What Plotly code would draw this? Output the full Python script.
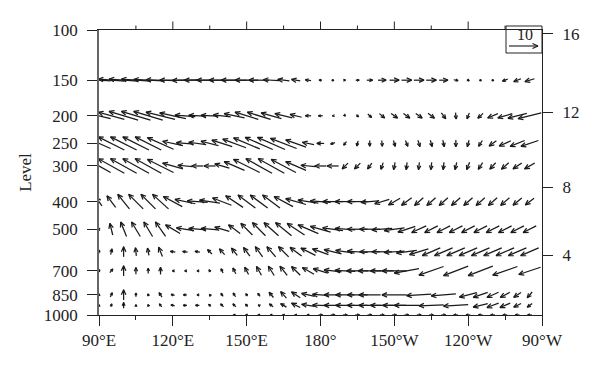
import math
import plotly.graph_objects as go

# ---------------- data ----------------
LONS = list(range(90, 270, 5))  # 90E ... 95W (265E)
LEVELS = [150, 200, 250, 300, 400, 500, 600, 700, 850, 925, 1000]

U150 = [-8, -9, -10, -10, -10, -10, -9, -9, -9, -9, -9, -9, -8, -7, -5.5, -4, -3, -2, -1, -0.2, 0.3, 1.2, 2, 2.8, 3.3, 3.5, 3.5, 3.5, 3, 1.5, 0.7, 0.2, -0.2, -1.8, -2.5, -3.3]
W150 = [0.5, 0.7, 0.7, 0.7, 0.5, 0.3, 0, -0.2, 0, 0, 0, 0, 0, 0, 0.3, 0.5, 0.5, 0.3, 0, 0, 0, 0, 0, 0, 0, 0, 0, 0, 0, -0.3, -0.5, 0, 0, -0.7, -1, -1]

U200 = [-8, -9, -10, -10, -10, -10, -9, -7, -6, -6, -6, -7, -8, -8, -7, -6, -4, -2, -1.5, -0.3, 0.2, 0.7, 1.3, 1.8, 2.2, 2.2, 2.2, 2.2, 1.5, 0.2, -0.8, -1.8, -3.5, -5, -6.5, -8]
W200 = [2, 2.5, 3, 3, 3, 2.5, 2, 0.5, 0.3, 0.3, 0.7, 1.5, 2.5, 2.5, 2, 1.5, 1, 0, 0, 0, -0.2, -0.8, -1.2, -1.5, -1.6, -1.6, -1.6, -1.7, -2, -2.2, -2, -1.7, -1.5, -1.5, -1.7, -2]

U250 = [-8, -9, -9, -9, -9, -9, -7, -6, -6, -6, -7, -8, -9, -9.5, -9.5, -9, -7, -4, -2.5, -1.5, -1, -0.5, 0, 0.2, 0.6, 0.8, 0.7, 0.6, 0.5, 0, -0.6, -1.3, -2.5, -4, -5, -6]
W250 = [3.5, 4.5, 4.5, 4.5, 4.5, 4, 1.5, 0.5, 0.8, 1.5, 2.2, 3, 3.8, 4.2, 4.2, 3.5, 2.5, 0.8, 0, -0.5, -1.2, -1.8, -2, -2, -2, -2, -2.2, -2.2, -2.3, -2.3, -2.2, -2, -1.8, -1.8, -2, -2]

U300 = [-8, -9, -9, -9, -9, -9, -7, -5, -4, -4, -5, -7, -9, -9, -9, -8.5, -7, -5, -4, -4, -2, -2, -1.5, -0.8, -0.5, -0.3, -0.3, -0.3, -0.3, -0.6, -1, -1.5, -2, -2.5, -3, -3.5]
W300 = [4.5, 5, 5, 5, 5, 4.5, 2, 0.5, 0, 0, 1.5, 3, 4.5, 5, 5, 4.5, 3, 0.5, 0, 0, -2, -2, -2, -2.3, -2.5, -2.5, -2.5, -2.5, -2.5, -2.5, -2.5, -2.3, -2.2, -2.2, -2, -2]

U400 = [-2, -3, -4, -5, -5, -5.5, -6.5, -7, -7, -7, -6.5, -6, -6, -6, -6, -6.5, -7, -7, -7, -7, -7, -7, -6, -5, -4, -3.5, -3, -3, -3, -3, -3, -3, -3, -3, -3, -3]
W400 = [3, 4, 5, 5, 5, 5, 3.5, 1.5, 0.5, 1, 2.5, 4, 4.5, 4.5, 4.5, 3.5, 2, 1, 0.5, 0, 0, 0, -0.5, -1.5, -2.3, -2.6, -2.7, -2.7, -2.7, -2.7, -2.7, -2.7, -2.7, -2.6, -2.5, -2.3]

U500 = [-0.5, -1, -2, -3, -3, -3.5, -5, -6, -6, -6, -5, -4, -4, -4.5, -5, -5.5, -6, -7, -7, -7, -7, -7, -7, -7, -7, -6, -5, -4.5, -4.5, -4.5, -4.5, -4.5, -4.5, -4.5, -4.5, -4.5]
W500 = [1, 4, 5, 5, 5, 5, 3, 1, 0.5, 0.5, 1.5, 3, 4, 4.5, 4.5, 4.5, 4, 3, 2, 1, 0.5, 0, 0, -0.5, -1, -2, -2.3, -2.3, -2.3, -2.3, -2.3, -2.3, -2.3, -2.3, -2.3, -2.3]

U600 = [0.3, 0.5, 0, -0.3, -0.5, -1.3, -1.7, -1.7, -1.7, -1.5, -1.8, -2, -2.2, -2.5, -3, -3.5, -4, -5, -5.5, -6, -6.5, -7, -7, -7, -7, -7, -6.5, -6.2, -6.2, -6.2, -6.2, -6.2, -6.2, -6.2, -6.2, -6.2]
W600 = [1.2, 2, 3.5, 2.8, 2.5, 3.2, 0.3, 0.2, 0.3, 1.5, 2, 2.5, 3, 3.5, 3.5, 3.5, 3, 2.5, 2, 1.5, 1, 0.5, 0, 0, -0.5, -1, -2, -2.7, -2.7, -2.7, -2.7, -2.7, -2.7, -2.7, -2.7, -2.7]

U700 = [0.5, 1, 0, 0, 0, 0, -0.3, -0.3, -0.3, -0.5, -0.7, -1, -1.3, -1.7, -2, -2.5, -3, -4, -5, -6, -7, -7.5, -8, -8, -8.5, -8.5, None, -8.5, None, -8.5, None, -8.5, None, -8.5, None, -7.5]
W700 = [0.8, 1.3, 3.5, 2.3, 1.8, 2.5, 0, 0, 0, 0.8, 1.5, 2, 2.5, 3, 3.2, 3.2, 3, 2.3, 1.5, 0.7, 0.3, 0, 0, 0, 0, -1.5, None, -3, None, -3.3, None, -3.3, None, -3, None, -2.5]

U850 = [0, 0.7, 0, 0, -0.3, -1, -1.2, -1.2, -0.3, -0.3, -0.8, -0.8, -0.6, -0.8, -1.5, -2, -3, -4.5, -5.5, -6, -6.5, -7, -7.5, None, -8.5, None, -8.5, None, -8.5, None, -6, -5, -4, -3.3, -2.5, -1.7]
W850 = [0.8, 1.5, 3.5, 1.3, 0.7, 1.5, 0.3, 0, 0, 0.3, 1, 1.3, 0.8, 1, 1.8, 2.2, 2, 1, 0.3, 0, 0, 0, 0, None, 0, None, -0.5, None, -0.7, None, -1.5, -1.7, -1.8, -1.8, -1.7, -2]

U925 = [0, 0.3, 0, 0, -0.3, -0.8, -1.3, -1.3, -1.3, -0.8, -1, -1, -0.8, -0.5, -1.3, -2, -3, -4.5, -5.5, -6, -6.5, -7, -7.5, -8, -8, -8.5, None, -8.5, None, -8.5, None, -5, -4, -3.5, -2.5, -1.7]
W925 = [0.5, 1, 2, 0.5, 0.5, 1, 0.3, 0, 0, 0.7, 1, 1, 0.8, 0.3, 1, 1.2, 1.5, 0.7, 0.2, 0, 0, 0, 0, 0, 0, 0, None, -0.3, None, -0.5, None, -1.2, -1.5, -1.5, -1.3, -1.3]

U1000 = [None] * 11 + [-0.8, -0.8, -0.8, -0.8, -0.8, -0.8, -0.8, 1.5, 1.5, 1.5, 1.5, 1.5, 1.5, 1.5, 1.5, 1.5, 1.5, 1.5, -1.5, -1.5, -1.5, -1.5, -1.5, -1.5, -1.5]
W1000 = [None] * 11 + [0] * 25

U_BY_LEVEL = {150: U150, 200: U200, 250: U250, 300: U300, 400: U400, 500: U500,
              600: U600, 700: U700, 850: U850, 925: U925, 1000: U1000}
W_BY_LEVEL = {150: W150, 200: W200, 250: W250, 300: W300, 400: W400, 500: W500,
              600: W600, 700: W700, 850: W850, 925: W925, 1000: W1000}

P_TICKS = [100, 150, 200, 250, 300, 400, 500, 700, 850, 1000]
LON_TICKS = [90, 120, 150, 180, 210, 240, 270]
LON_LABELS = ["90°E", "120°E", "150°E", "180°", "150°W", "120°W", "90°W"]
LON_MINOR = [105, 135, 165, 195, 225, 255]
HEIGHT_KM = [4, 8, 12, 16]
HEIGHT_P = [616, 356, 194, 103]   # pressure positions of the height ticks
REF_VALUE = 10

# ---------------- geometry ----------------
# the page body adds an 8px offset, so the figure is 8px smaller on each side
W, H = 592, 361
ML, MT = 91, 22
PW, PH = 443, 285
MR, MB = W - ML - PW, H - MT - PH
X_RANGE = [90, 270]
Y_RANGE = [3, 2]  # log10(p), reversed
PX_PER_UNIT = 2.9
DEG_PER_PX = (X_RANGE[1] - X_RANGE[0]) / PW
DEC_PER_PX = abs(Y_RANGE[0] - Y_RANGE[1]) / PH


def to_data(lon, lev, px, py_up):
    return lon + px * DEG_PER_PX, 10 ** (math.log10(lev) - py_up * DEC_PER_PX)


def add_arrow(xs, ys, lon, lev, dx, dy, head_max=5.0):
    L = math.hypot(dx, dy)
    ex, ey = dx / L, dy / L
    tx, ty = -dx / 2, -dy / 2
    hx, hy = dx / 2, dy / 2
    hl = min(head_max, max(2.2, 0.55 * L))
    hw = 0.45 * hl
    bx, by = hx - hl * ex, hy - hl * ey
    lx, ly = bx - hw * ey, by + hw * ex
    rx, ry = bx + hw * ey, by - hw * ex
    for (px, py) in [(tx, ty), (hx, hy)]:
        a, b = to_data(lon, lev, px, py)
        xs.append(a); ys.append(b)
    xs.append(None); ys.append(None)
    for (px, py) in [(lx, ly), (hx, hy), (rx, ry)]:
        a, b = to_data(lon, lev, px, py)
        xs.append(a); ys.append(b)
    xs.append(None); ys.append(None)


xs, ys = [], []
dot_x, dot_y = [], []
for lev in LEVELS:
    for lon, u, w in zip(LONS, U_BY_LEVEL[lev], W_BY_LEVEL[lev]):
        if u is None or w is None:
            continue
        dx, dy = u * PX_PER_UNIT, w * PX_PER_UNIT
        if math.hypot(dx, dy) < 0.6:
            dot_x.append(lon)
            dot_y.append(lev)
            continue
        add_arrow(xs, ys, lon, lev, dx, dy)

# reference vector (inside the legend box at the top right of the plot)
ref_cx_px, ref_cy_px = 424.5, 16.0  # centre, px from plot's top-left
ref_lon = X_RANGE[0] + ref_cx_px * DEG_PER_PX
ref_lev = 10 ** (min(Y_RANGE) + ref_cy_px * DEC_PER_PX)
rx_, ry_ = [], []
add_arrow(rx_, ry_, ref_lon, ref_lev, REF_VALUE * PX_PER_UNIT, 0, head_max=5.5)

fig = go.Figure()
fig.add_trace(go.Scatter(x=xs, y=ys, mode="lines", line=dict(color="#1a1a1a", width=1.25),
                         hoverinfo="skip", showlegend=False))
fig.add_trace(go.Scatter(x=dot_x, y=dot_y, mode="markers", marker=dict(color="#1a1a1a", size=2.5),
                         hoverinfo="skip", showlegend=False))
fig.add_trace(go.Scatter(x=rx_, y=ry_, mode="lines", line=dict(color="#1a1a1a", width=1.1),
                         hoverinfo="skip", showlegend=False))
fig.add_trace(go.Scatter(x=[180], y=[500], yaxis="y2", mode="markers",
                         marker=dict(opacity=0), hoverinfo="skip", showlegend=False))

FONT = "Liberation Serif"
axis_col = "#222"
fig.update_layout(
    width=W, height=H,
    margin=dict(l=ML, r=MR, t=MT, b=MB, autoexpand=False),
    plot_bgcolor="white", paper_bgcolor="white",
    showlegend=False,
    font=dict(family=FONT, size=17, color="#222"),
    xaxis=dict(range=X_RANGE, tickmode="array", tickvals=LON_TICKS, ticktext=LON_LABELS,
               ticks="outside", ticklen=10, tickwidth=1, tickcolor=axis_col,
               showline=True, linecolor=axis_col, linewidth=1, mirror=True,
               showgrid=False, zeroline=False, automargin=False,
               minor=dict(tickmode="array", tickvals=LON_MINOR, ticks="outside",
                          ticklen=4, tickwidth=1, tickcolor=axis_col, showgrid=False)),
    yaxis=dict(type="log", range=Y_RANGE, tickmode="array", tickvals=P_TICKS,
               ticktext=[str(p) for p in P_TICKS],
               ticks="outside", ticklen=10, tickwidth=1, tickcolor=axis_col,
               showline=True, linecolor="#666", linewidth=1.5, automargin=False,
               showgrid=False, zeroline=False, ticklabelstandoff=6,
               title=dict(text="Level", standoff=8, font=dict(size=17))),
    yaxis2=dict(type="log", range=Y_RANGE, overlaying="y", side="right", anchor="x",
                tickmode="array", tickvals=HEIGHT_P, ticktext=[str(h) for h in HEIGHT_KM],
                ticks="outside", ticklen=10, tickwidth=1, tickcolor=axis_col,
                showline=True, linecolor=axis_col, linewidth=1, automargin=False,
                showgrid=False, zeroline=False, ticklabelstandoff=6),
)

# top-edge tick marks (major and minor), drawn as plain arrow-less annotation lines
for lon, tl in [(v, 9) for v in LON_TICKS[1:-1]] + [(v, 5) for v in LON_MINOR]:
    fig.add_annotation(xref="x", yref="paper", x=lon, y=1.0, text="",
                       showarrow=True, arrowhead=0, arrowwidth=1, arrowcolor=axis_col,
                       ax=0, ay=-tl, standoff=0, startstandoff=0,
                       font=dict(size=1), borderpad=0)

# reference vector box
fig.add_shape(type="rect", xref="paper", yref="paper",
              x0=407 / PW, x1=1.0, y0=(PH - 23) / PH, y1=(PH + 4) / PH,
              line=dict(color="#222", width=1), fillcolor="white", layer="below")
fig.add_annotation(xref="paper", yref="paper", x=426 / PW, y=(PH - 4) / PH,
                   text=str(REF_VALUE), showarrow=False, xanchor="center", yanchor="middle",
                   font=dict(family=FONT, size=16, color="#222"))

fig.write_html("out.html")
